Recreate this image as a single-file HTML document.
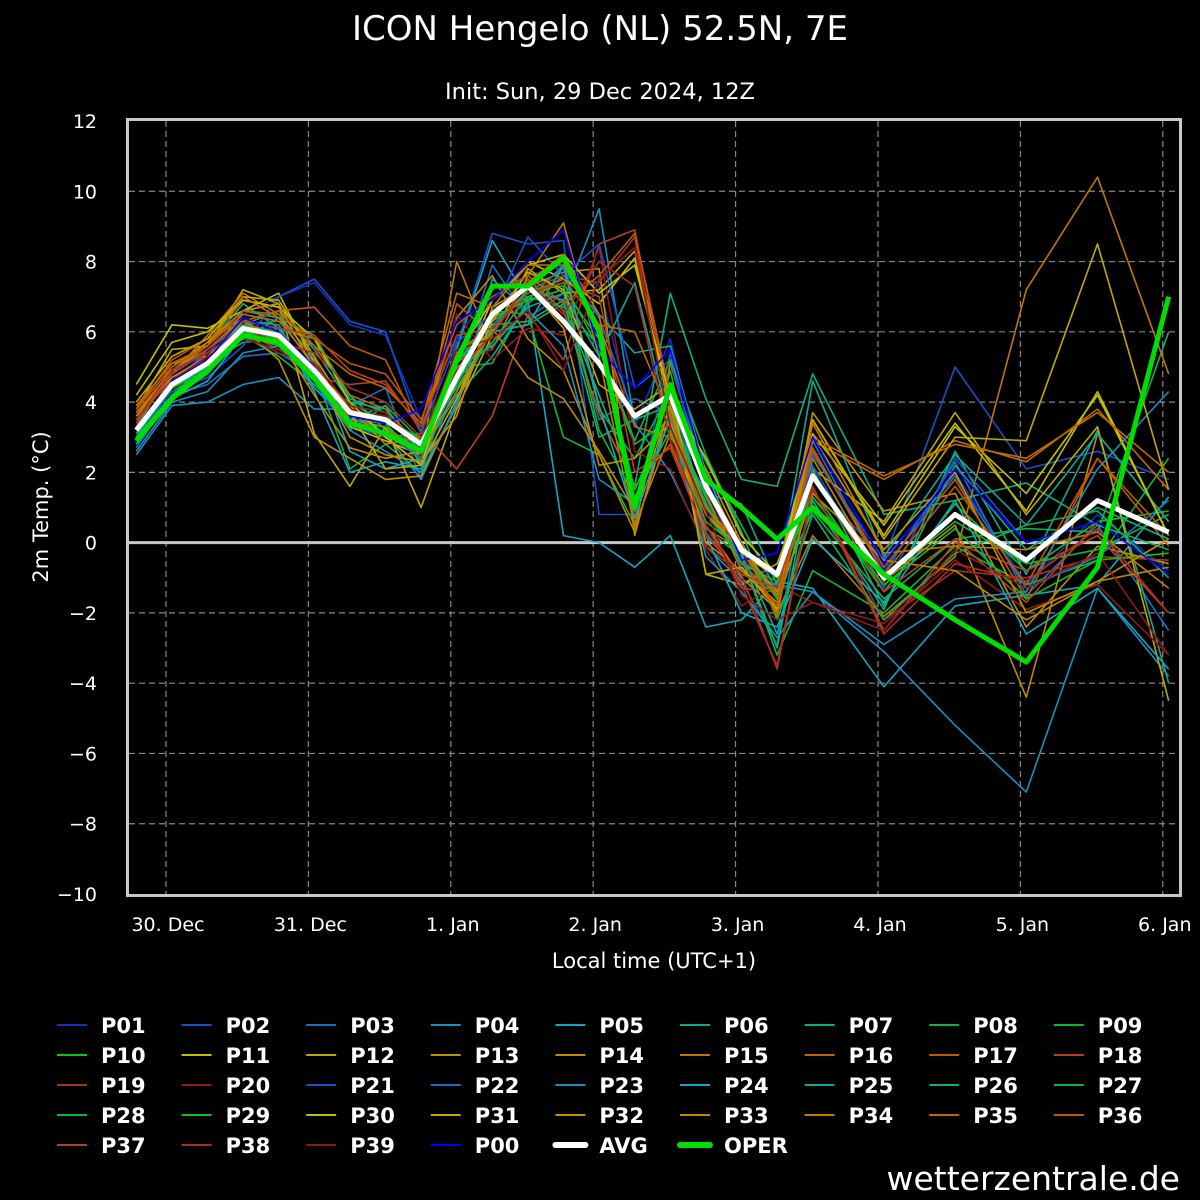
<!DOCTYPE html>
<html><head><meta charset="utf-8"><style>
html,body{margin:0;padding:0;background:#000;}
svg{display:block;font-family:"DejaVu Sans","Liberation Sans",sans-serif;}
</style></head><body>
<svg id="c" width="1200" height="1200" viewBox="0 0 1200 1200">
<rect x="0" y="0" width="1200" height="1200" fill="#000"/>
<text x="600" y="40" text-anchor="middle" fill="#fff" font-size="34">ICON Hengelo (NL) 52.5N, 7E</text>
<text x="600" y="99" text-anchor="middle" fill="#fff" font-size="22.5">Init: Sun, 29 Dec 2024, 12Z</text>
<text x="0" y="0" transform="translate(48,507) rotate(-90)" text-anchor="middle" fill="#fff" font-size="21">2m Temp. (°C)</text>
<text x="654" y="968" text-anchor="middle" fill="#fff" font-size="21">Local time (UTC+1)</text>
<text x="1180" y="1190" text-anchor="end" fill="#fff" font-size="33">wetterzentrale.de</text>
<defs><clipPath id="pc"><rect x="129" y="121" width="1050" height="773"/></clipPath></defs>
<g id="grid"></g><g id="series" clip-path="url(#pc)"></g><g id="axes"></g><g id="legend"></g>
</svg>
<script>
const hours=[6,12,18,24,30,36,42,48,54,60,66,72,78,84,90,96,102,108,114,120,132,144,156,168,180];
const yTicks=[12,10,8,6,4,2,0,-2,-4,-6,-8,-10];
const dayLabels=["30. Dec","31. Dec","1. Jan","2. Jan","3. Jan","4. Jan","5. Jan","6. Jan"];
const dayHours=[11,35,59,83,107,131,155,179];
const P01=[3.5,4.8,5.4,6.5,7.0,7.4,6.2,5.9,3.5,5.8,7.2,7.6,7.9,7.3,3.3,5.8,1.5,-0.5,-1.2,2.6,-0.8,2.0,-1.2,0.8,-0.8];
const P02=[3.0,4.6,5.0,6.0,5.6,4.4,3.3,3.0,2.2,5.6,8.8,8.5,8.6,0.8,0.8,5.4,1.2,-0.6,-1.5,1.8,-0.5,5.0,2.1,2.6,1.8];
const P03=[2.7,4.2,4.5,5.3,5.4,4.8,3.9,4.4,1.8,4.6,7.9,6.4,7.1,3.5,4.1,3.7,0.3,-1.1,-2.9,2.9,-0.9,2.3,-1.5,0.5,-2.5];
const P04=[2.5,3.9,4.0,4.5,4.7,3.8,3.8,3.1,1.8,4.0,6.1,7.2,6.9,9.5,3.4,2.0,-0.1,-1.1,-1.2,-1.4,-3.1,-5.2,-7.1,-1.3,-3.8];
const P05=[2.9,4.4,5.0,6.6,6.4,5.3,2.6,2.1,2.4,5.5,8.6,6.9,0.2,0.0,-0.7,0.2,-2.4,-2.2,-1.1,-1.3,-4.1,-1.8,-1.5,-1.2,1.3];
const P06=[3.1,4.7,5.3,6.2,6.6,5.5,4.0,3.8,2.5,4.2,5.3,6.8,7.6,6.5,5.4,5.6,2.0,-0.3,-2.6,1.2,-1.9,2.6,-0.9,3.2,-4.0];
const P07=[3.3,4.9,5.6,6.8,6.1,5.8,4.2,3.2,2.7,5.1,6.0,6.2,6.8,4.2,1.6,7.1,4.1,1.8,1.6,4.8,0.8,1.2,1.7,0.5,-0.2];
const P08=[3.0,4.2,5.1,5.7,5.8,4.9,2.1,2.8,2.0,5.0,5.1,6.9,7.9,3.8,2.4,4.3,2.3,0.5,-1.4,0.9,-1.6,0.1,0.4,0.3,6.0];
const P09=[2.8,4.1,4.8,5.9,5.3,4.5,3.5,3.4,2.3,4.8,6.6,6.5,3.0,2.5,0.5,4.9,0.4,-0.4,-3.2,-0.8,-2.0,-0.1,-1.2,-0.5,2.4];
const P10=[3.2,4.3,4.9,6.0,5.9,4.6,3.6,3.6,2.9,5.3,6.3,7.0,7.4,5.5,2.8,3.5,1.3,-0.7,-1.8,1.5,-1.4,1.1,-0.8,0.6,0.9];
const P11=[4.5,6.2,6.1,6.6,7.1,5.1,3.3,2.9,2.5,4.6,6.9,8.0,7.5,6.8,8.1,3.8,1.0,-0.3,-1.0,3.5,0.2,3.3,1.4,4.2,0.2];
const P12=[3.8,5.5,5.6,7.2,6.8,3.1,1.6,3.3,1.0,3.8,5.9,7.8,7.1,7.2,8.3,4.2,-0.9,-1.2,-0.6,2.1,0.6,3.7,0.8,3.3,-4.5];
const P13=[3.9,5.1,5.3,6.1,5.2,3.0,2.4,1.8,1.9,3.9,6.6,7.3,7.7,7.8,0.2,4.0,2.1,0.0,-1.6,3.7,0.9,1.4,-2.4,-0.1,-0.6];
const P14=[3.6,4.9,5.5,6.4,6.0,4.9,3.9,3.0,3.1,6.4,7.6,5.8,4.9,2.5,0.3,3.7,0.5,-1.0,-1.9,2.4,-1.1,0.5,-4.4,3.1,0.6];
const P15=[3.7,4.8,5.9,7.1,6.5,5.2,3.5,3.3,2.4,8.0,5.5,7.6,9.1,5.3,0.4,5.1,1.8,-0.1,-2.0,0.2,-2.1,-0.4,7.2,10.4,4.8];
const P16=[3.4,5.0,5.7,6.9,6.7,5.6,4.2,3.8,2.7,5.4,6.2,7.1,7.5,6.2,3.3,3.0,1.4,-0.8,-1.5,2.9,1.8,2.9,2.3,3.8,1.5];
const P17=[3.8,5.2,5.8,6.3,6.6,6.7,5.6,5.2,3.1,6.8,5.9,7.5,6.6,3.7,1.6,2.8,0.4,-0.2,-1.9,2.6,-0.7,1.8,-1.6,2.4,-0.1];
const P18=[3.6,4.6,5.4,6.1,5.9,4.7,4.5,4.6,3.2,2.1,3.6,6.5,5.2,8.5,8.9,3.8,0.5,-1.3,-1.4,1.6,-2.5,0.0,-0.8,0.2,-2.0];
const P19=[3.5,4.7,5.2,6.0,5.5,4.9,3.8,3.5,2.8,5.2,5.5,7.2,7.6,7.4,8.7,3.2,-0.1,-0.9,-3.6,1.5,-2.2,-0.8,-1.0,-0.4,-0.5];
const P20=[3.2,4.5,5.3,5.8,5.5,5.0,3.8,3.6,2.5,6.5,5.2,6.1,5.9,8.4,2.6,2.1,-0.2,-1.8,-1.2,-1.7,-2.3,-0.5,-1.9,-1.2,-3.2];
const P21=[3.1,4.3,4.7,5.6,7.0,7.5,6.3,6.0,3.1,5.7,6.5,8.7,7.6,8.5,4.4,5.2,1.6,-0.7,-0.9,2.2,-1.3,2.4,0.0,0.6,-0.9];
const P22=[2.9,4.4,5.5,6.2,6.3,5.1,3.6,3.1,2.4,5.2,6.2,7.1,7.8,6.4,3.6,4.1,1.0,-0.5,-1.3,2.5,-0.5,1.9,-1.3,-0.4,1.2];
const P23=[2.6,4.0,4.3,5.4,5.6,4.6,3.2,2.6,2.0,3.9,7.5,6.6,5.6,1.8,1.1,3.5,-0.4,-1.4,-2.7,-1.4,-2.9,-1.6,-1.4,2.1,4.3];
const P24=[2.8,4.1,4.6,5.9,6.1,4.3,2.0,2.3,2.1,5.2,6.0,6.2,7.9,3.9,0.7,3.6,0.2,-2.0,-2.4,0.1,-1.7,1.2,-2.6,-1.3,-3.6];
const P25=[3.0,4.5,5.1,6.3,6.2,4.4,3.5,3.9,2.2,5.0,5.6,6.7,7.1,5.3,7.4,3.3,1.4,1.1,-1.2,4.6,-0.4,2.5,0.5,3.1,0.6];
const P26=[3.1,4.6,5.2,5.8,6.4,5.9,4.1,3.7,2.6,4.5,6.2,6.3,6.9,3.0,3.5,3.9,0.8,-0.4,-3.0,2.1,-1.8,2.2,-0.2,1.0,0.1];
const P27=[3.3,4.4,4.9,6.2,6.0,4.8,3.2,3.9,2.9,4.7,5.7,7.0,6.7,5.6,2.9,5.2,2.5,0.3,-2.2,0.8,-2.2,-0.3,0.5,0.9,-1.0];
const P28=[3.0,4.2,5.0,5.9,5.6,4.6,4.0,3.4,3.0,4.4,6.0,7.2,7.3,3.2,1.3,3.2,0.6,-0.2,-1.6,1.9,-1.0,0.6,-0.6,-0.2,0.8];
const P29=[3.2,4.4,5.1,6.0,5.8,4.9,3.4,3.3,2.6,5.1,6.4,6.9,7.2,5.8,1.5,3.8,1.1,-0.6,-1.1,1.3,-1.2,0.4,-1.6,-0.5,-0.3];
const P30=[4.2,5.7,6.0,6.9,6.7,5.8,4.0,3.0,2.2,5.3,6.9,7.9,8.2,7.1,7.9,4.1,2.4,0.2,-0.9,3.1,0.5,3.4,0.9,4.3,0.2];
const P31=[4.0,5.3,5.8,7.0,6.9,5.3,3.7,2.1,2.2,4.1,6.3,7.7,7.2,4.5,3.8,4.5,-0.9,-0.7,-1.9,3.5,0.1,3.0,2.9,8.5,1.5];
const P32=[3.8,5.0,5.7,6.6,6.8,4.9,3.0,2.5,2.3,3.6,6.7,7.3,6.1,2.2,2.4,3.4,0.8,-0.2,-1.4,3.0,-0.2,2.0,-2.0,-1.1,0.1];
const P33=[3.6,4.7,5.3,6.3,5.8,4.2,2.7,2.4,2.6,4.3,6.1,4.7,4.1,2.6,0.9,3.9,0.0,-0.8,-1.7,1.4,-0.5,-0.8,-2.2,-1.1,-0.7];
const P34=[3.7,4.9,5.6,7.0,6.4,5.0,3.8,2.8,3.0,4.9,6.4,7.4,8.2,6.5,0.5,3.1,1.0,-0.1,-1.5,3.4,-0.3,-0.1,-0.2,0.3,-1.3];
const P35=[3.9,5.1,5.6,6.5,6.3,5.6,4.8,4.4,3.4,7.1,6.7,7.9,7.9,6.2,6.0,3.6,0.8,0.0,-2.1,3.0,1.9,2.8,2.4,3.7,2.0];
const P36=[3.8,5.0,5.6,6.6,6.5,5.8,5.1,4.8,3.5,6.2,7.0,7.6,6.8,7.6,8.8,4.2,1.6,-0.5,-1.8,2.7,-0.9,1.6,-1.2,2.4,0.2];
const P37=[3.4,4.8,5.5,6.3,6.1,5.9,4.9,4.5,3.3,5.9,6.1,7.1,7.4,7.0,2.0,2.7,0.2,-0.9,-1.3,2.0,-1.4,0.1,-1.7,0.6,-0.9];
const P38=[3.5,4.9,5.4,6.1,5.7,5.4,4.4,4.0,3.0,4.9,5.9,7.4,6.5,8.0,7.3,2.9,0.5,-1.2,-3.5,1.6,-2.6,-0.6,-1.1,0.4,-2.0];
const P39=[3.3,4.6,5.3,5.9,5.4,5.1,3.9,3.7,2.7,5.5,5.8,6.6,4.9,7.5,8.4,3.3,0.9,-1.5,-2.2,-1.7,-2.5,-0.2,-1.3,-0.3,-3.2];
const P00=[3.2,4.6,5.2,6.4,6.0,5.0,3.6,3.4,3.8,6.3,6.9,8.0,8.9,5.5,4.4,5.5,1.9,-0.5,-0.3,3.0,-0.6,2.1,0.0,0.6,-0.9];
const AVG=[3.2,4.5,5.1,6.1,5.9,4.9,3.7,3.5,2.8,4.7,6.5,7.3,6.3,5.1,3.6,4.2,1.6,-0.2,-0.9,1.9,-1.0,0.8,-0.5,1.2,0.3];
const OPER=[2.9,4.1,4.9,5.9,5.7,4.7,3.4,3.1,2.6,5.2,7.3,7.3,8.1,6.0,1.0,4.5,1.8,1.0,0.1,1.0,-0.9,-2.2,-3.4,-0.7,7.0];
const memberNames=["P01","P02","P03","P04","P05","P06","P07","P08","P09","P10","P11","P12","P13","P14","P15","P16","P17","P18","P19","P20","P21","P22","P23","P24","P25","P26","P27","P28","P29","P30","P31","P32","P33","P34","P35","P36","P37","P38","P39","P00"];
const members=[P01,P02,P03,P04,P05,P06,P07,P08,P09,P10,P11,P12,P13,P14,P15,P16,P17,P18,P19,P20,P21,P22,P23,P24,P25,P26,P27,P28,P29,P30,P31,P32,P33,P34,P35,P36,P37,P38,P39,P00];
const pal=["#1030c0","#1a50c8","#1a70c0","#1890c0","#10a8c0","#10a890","#10b070","#10b050","#10b830","#10c020","#c0c000","#c0a800","#c09000","#c08800","#c07800","#c06800","#c05800","#b84020","#a83020","#901818"];
const NS="http://www.w3.org/2000/svg";
const X0=129,X1=1179,Y0=121,Y1=894;
function xs(h){return 100.7+h*142.4/24;}
function ys(v){return Y0+(12-v)*(Y1-Y0)/22;}
function mk(t,a,p){const e=document.createElementNS(NS,t);for(const k in a)e.setAttribute(k,a[k]);p.appendChild(e);return e;}
const grid=document.getElementById('grid'),series=document.getElementById('series'),axes=document.getElementById('axes'),legend=document.getElementById('legend');
yTicks.forEach(v=>{
  const y=ys(v);
  if(v!==0&&v!==12&&v!==-10){const l=mk('line',{x1:X0,x2:X1,y1:y,y2:y,stroke:'#888','stroke-width':1.2,'stroke-dasharray':'6,4'},grid);
  
  }
  const t=mk('text',{x:97,y:y+7,'text-anchor':'end',fill:'#fff','font-size':19},axes);t.textContent=String(v).replace('-','\u2212');
  
  
});
dayHours.forEach((h,i)=>{
  const x=xs(h);
  const l=mk('line',{x1:x,x2:x,y1:Y0,y2:Y1,stroke:'#888','stroke-width':1.2,'stroke-dasharray':'6,4'},grid);
  
  
  const t=mk('text',{x:x+2,y:931,'text-anchor':'middle',fill:'#fff','font-size':19},axes);t.textContent=dayLabels[i];
  
  
});
const zl=mk('line',{x1:X0,x2:X1,y1:ys(0),y2:ys(0),stroke:'#c8c8c8','stroke-width':3},grid);


function pts(arr){return arr.map((v,i)=>xs(hours[i]).toFixed(1)+','+ys(v).toFixed(1)).join(' ');}
members.forEach((arr,i)=>{
  const col=i===39?'#0000ff':(i<20?pal[i]:pal[i-19]);
  const pl=mk('polyline',{points:pts(arr),fill:'none',stroke:col,'stroke-width':1.6,'stroke-linejoin':'round'},series);
  
  
});
const av=mk('polyline',{points:pts(AVG),fill:'none',stroke:'#fff','stroke-width':5,'stroke-linejoin':'round'},series);


const op=mk('polyline',{points:pts(OPER),fill:'none',stroke:'#00dd00','stroke-width':5,'stroke-linejoin':'round'},series);


const fr=mk('rect',{x:127.5,y:119.5,width:1053,height:776,fill:'none',stroke:'#c8c8c8','stroke-width':3},axes);


const legNames=memberNames.concat(["AVG","OPER"]);
legNames.forEach((n,i)=>{
  const r=Math.floor(i/9),c=i%9;
  const lx=57+c*124.6,ly=1025+r*30;
  let col,w;
  if(i<40){col=i===39?'#0000ff':(i<20?pal[i]:pal[i-19]);w=2;}else if(i===40){col='#fff';w=6;}else{col='#00dd00';w=6;}
  const g=mk('g',{},legend);
  
  
  mk('line',{x1:lx,x2:lx+30,y1:ly,y2:ly,stroke:col,'stroke-width':w,'stroke-linecap':i>=40?'round':'butt'},g);
  const t=mk('text',{x:lx+44,y:ly+8,fill:'#fff','font-size':21,'font-weight':'bold'},g);t.textContent=n;
});
</script>
</body></html>
